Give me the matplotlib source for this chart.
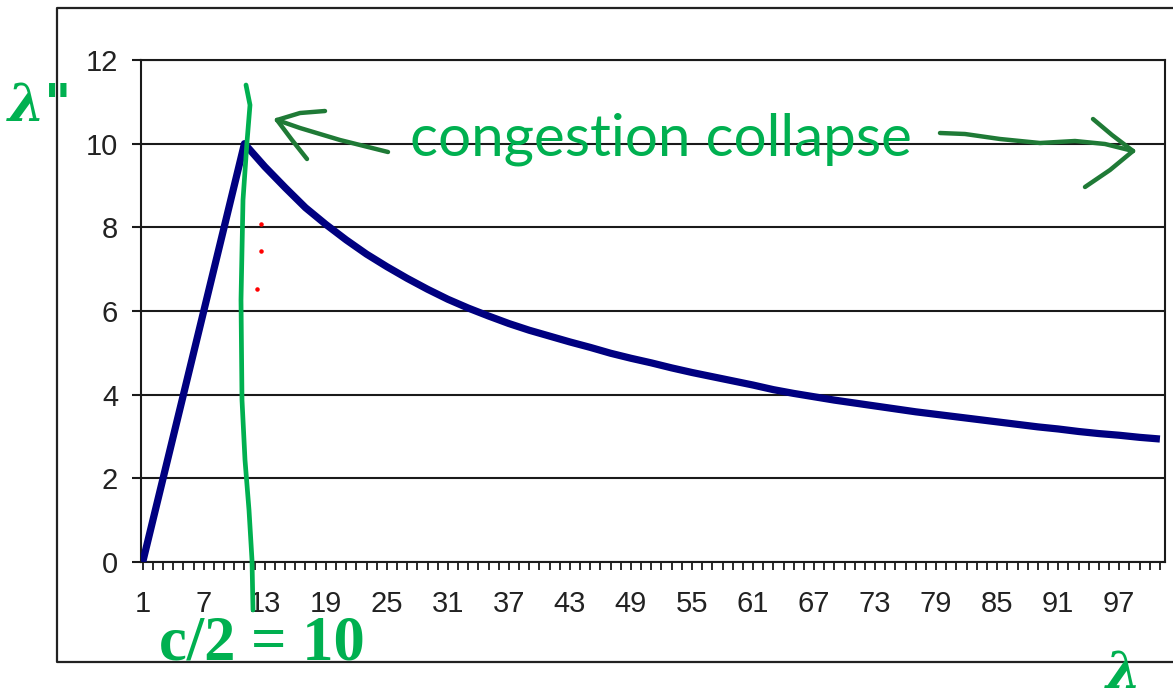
import matplotlib
matplotlib.use('Agg')
import matplotlib.pyplot as plt
from matplotlib.ticker import MultipleLocator, FixedLocator

# ── Data ──────────────────────────────────────────────────────────────────
lam_in = [1, 2, 3, 4, 5, 6, 7, 8, 9, 10, 11,
          13, 15, 17, 19, 21, 23, 25, 27, 29, 31, 33, 35, 37, 39, 41, 43,
          45, 47, 49, 51, 53, 55, 57, 59, 61, 63, 65, 67, 69, 71, 73, 75,
          77, 79, 81, 83, 85, 87, 89, 91, 93, 95, 97, 99, 101]
lam_out = [0, 1, 2, 3, 4, 5, 6, 7, 8, 9, 10,
           9.45, 8.95, 8.47, 8.07, 7.70, 7.36, 7.06, 6.78, 6.52, 6.28, 6.07,
           5.88, 5.70, 5.54, 5.40, 5.26, 5.13, 4.99, 4.87, 4.76, 4.64, 4.53,
           4.43, 4.33, 4.23, 4.12, 4.03, 3.95, 3.87, 3.80, 3.73, 3.66, 3.59,
           3.53, 3.47, 3.41, 3.35, 3.29, 3.23, 3.18, 3.12, 3.07, 3.03, 2.98, 2.94]
x_labels = list(range(1, 98, 6))
y_ticks = [0, 2, 4, 6, 8, 10, 12]

W, H = 1173, 700
GREEN = '#00B050'
DARK_GREEN = '#1F7A36'
NAVY = '#000080'

fig = plt.figure(figsize=(W / 100, H / 100), dpi=100)
fig.patch.set_facecolor('white')

# ── Excel-style line chart ────────────────────────────────────────────────
ax = fig.add_axes([141 / W, 1 - 562 / H, (1165 - 141) / W, (562 - 60) / H])
ax.plot(lam_in, lam_out, color=NAVY, lw=5.2, solid_capstyle='butt', zorder=3)
ax.set_xlim(0.83, 101.5)
ax.set_ylim(0, 12)
ax.set_yticks(y_ticks)
ax.xaxis.set_major_locator(FixedLocator(x_labels))
ax.set_xticklabels([str(v) for v in x_labels])
ax.xaxis.set_minor_locator(MultipleLocator(1))
ax.yaxis.grid(True, color='#1a1a1a', lw=1.5)
ax.set_axisbelow(True)
for s in ax.spines.values():
    s.set_color('#1a1a1a'); s.set_linewidth(1.5)
ax.tick_params(axis='y', length=6.5, width=1.5, color='#1a1a1a', pad=10,
               labelsize=21, labelcolor='#222222')
ax.tick_params(axis='x', which='both', length=6, width=1.3, color='#1a1a1a',
               pad=14, labelsize=21, labelcolor='#222222')
for lab in ax.get_xticklabels() + ax.get_yticklabels():
    lab.set_fontfamily('Liberation Sans')

# ── Overlay in pixel coords for the handwritten notes ─────────────────────
ov = fig.add_axes([0, 0, 1, 1], zorder=10)
ov.set_xlim(0, W); ov.set_ylim(H, 0); ov.axis('off')
ov.patch.set_alpha(0)

# chart area border
ov.plot([W + 5, 57, 57, W + 5], [8, 8, 662, 662], color='#222222', lw=1.6)

# hand-drawn vertical line at c/2
ov.plot([246, 250, 247, 243, 241, 242, 245, 249, 252, 253],
        [85, 105, 142, 200, 300, 400, 460, 510, 560, 610],
        color=GREEN, lw=3.4, solid_capstyle='round')

# red dots
ov.scatter([261, 261, 257], [224, 251, 289], s=5, color='red', zorder=11)

# left arrow
ov.plot([388, 340, 300, 277], [152, 140, 128, 120], color=DARK_GREEN, lw=3.2,
        solid_capstyle='round')
ov.plot([325, 300, 277], [111, 113, 120], color=DARK_GREEN, lw=3.2,
        solid_capstyle='round')
ov.plot([277, 292, 307], [120, 140, 159], color=DARK_GREEN, lw=3.2,
        solid_capstyle='round')

# right arrow
ov.plot([940, 965, 1000, 1040, 1075, 1105, 1133],
        [133, 134, 139, 143, 141, 144, 151], color=DARK_GREEN, lw=3.2,
        solid_capstyle='round')
ov.plot([1093, 1112, 1133], [119, 135, 151], color=DARK_GREEN, lw=3.2,
        solid_capstyle='round')
ov.plot([1133, 1110, 1085], [151, 170, 187], color=DARK_GREEN, lw=3.2,
        solid_capstyle='round')

# texts
ov.text(410, 155, 'congestion collapse', color=GREEN, fontsize=42,
        family='Lato', ha='left', va='baseline')
ov.text(262, 659, 'c/2 = 10', color=GREEN, fontsize=45,
        family='Liberation Serif', weight='bold', ha='center', va='baseline')
ov.text(8, 121, 'λ"', color=GREEN, fontsize=38, family='DejaVu Serif',
        weight='bold', style='italic', ha='left', va='baseline')
ov.text(1106, 699, 'λ', color=GREEN, fontsize=36, family='DejaVu Serif',
        weight='bold', style='italic', ha='left', va='bottom')

fig.savefig('out.png', dpi=100, facecolor='white')
